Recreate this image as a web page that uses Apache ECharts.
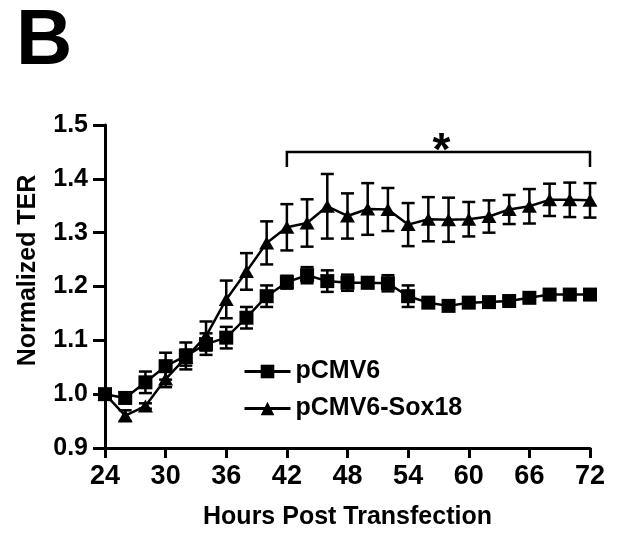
<!DOCTYPE html>
<html>
<head>
<meta charset="utf-8">
<script src="https://cdn.jsdelivr.net/npm/echarts@6/dist/echarts.min.js"></script>
<style>
  html, body { margin: 0; padding: 0; background: #fff; }
  #chart { width: 629px; height: 535px; }
</style>
</head>
<body>
<div id="chart"></div>
<script>
// hours post transfection, one reading every 2 h
var hours = [24, 26, 28, 30, 32, 34, 36, 38, 40, 42, 44, 46, 48, 50, 52, 54, 56, 58, 60, 62, 64, 66, 68, 70, 72]

var pcmv6 = [1.000, 0.993, 1.022, 1.052, 1.071, 1.093, 1.105, 1.142, 1.182, 1.208, 1.221, 1.210, 1.207,
  1.207, 1.206, 1.182, 1.170, 1.164, 1.170, 1.171, 1.173, 1.179, 1.185, 1.185, 1.185]
var pcmv6Err = [0.005, 0.010, 0.020, 0.025, 0.025, 0.020, 0.020, 0.020, 0.020, 0.012, 0.015, 0.020, 0.015,
  0.010, 0.015, 0.020, 0.008, 0.006, 0.005, 0.005, 0.005, 0.005, 0.005, 0.005, 0.005]

var sox18 = [1.000, 0.960, 0.978, 1.028, 1.068, 1.108, 1.176, 1.228, 1.281, 1.310, 1.318, 1.349, 1.331,
  1.344, 1.343, 1.315, 1.325, 1.324, 1.325, 1.330, 1.343, 1.349, 1.361, 1.361, 1.360]
var sox18Err = [0.005, 0.010, 0.005, 0.015, 0.015, 0.027, 0.035, 0.034, 0.040, 0.043, 0.044, 0.060, 0.042,
  0.048, 0.040, 0.040, 0.041, 0.041, 0.032, 0.030, 0.027, 0.032, 0.030, 0.032, 0.032]

var xTicks = [24, 30, 36, 42, 48, 54, 60, 66, 72]
var yTicks = [0.9, 1.0, 1.1, 1.2, 1.3, 1.4, 1.5]

// significance bracket: from / to hour, bar level, tip level, star position
var bracketHours = [42, 72]
var bracketLevel = [1.45, 1.422]
var starPoint = [57.3, 1.45]

var FONT = "'Liberation Sans', Arial, sans-serif"

function pairs(ys) {
  return hours.map(function (h, i) { return [h, ys[i]] })
}

function errData(ys, es) {
  return hours.map(function (h, i) { return [h, ys[i] - es[i], ys[i] + es[i]] })
}

function renderErr(params, api) {
  var lo = api.coord([api.value(0), api.value(1)])
  var hi = api.coord([api.value(0), api.value(2)])
  var half = 6.5
  var style = { stroke: '#000', lineWidth: 2.5 }
  return {
    type: 'group',
    children: [
      { type: 'line', shape: { x1: lo[0], y1: lo[1], x2: hi[0], y2: hi[1] }, style: style },
      { type: 'line', shape: { x1: hi[0] - half, y1: hi[1], x2: hi[0] + half, y2: hi[1] }, style: style },
      { type: 'line', shape: { x1: lo[0] - half, y1: lo[1], x2: lo[0] + half, y2: lo[1] }, style: style }
    ]
  }
}

function renderBracket(params, api) {
  var a = api.coord([bracketHours[0], bracketLevel[0]])
  var b = api.coord([bracketHours[1], bracketLevel[0]])
  var a2 = api.coord([bracketHours[0], bracketLevel[1]])
  var b2 = api.coord([bracketHours[1], bracketLevel[1]])
  var s = api.coord(starPoint)
  return {
    type: 'group',
    children: [
      { type: 'polyline', shape: { points: [a2, a, b, b2] }, style: { stroke: '#000', lineWidth: 2.5, fill: null } },
      { type: 'text', x: s[0], y: s[1], style: { text: '*', fill: '#000', font: 'bold 46px ' + FONT, align: 'center', verticalAlign: 'middle' } }
    ]
  }
}

var chart = echarts.init(document.getElementById('chart'))
var option = {
  animation: false,
  backgroundColor: '#fff',
  title: {
    text: 'B',
    left: 11,
    top: -2,
    textStyle: { fontFamily: FONT, fontWeight: 'bold', fontSize: 78, color: '#000' }
  },
  grid: { left: 105, right: 39, top: 125, bottom: 86 },
  legend: {
    orient: 'vertical',
    left: 238,
    top: 354,
    itemWidth: 46,
    itemHeight: 17,
    itemGap: 12,
    data: ['pCMV6', 'pCMV6-Sox18'],
    lineStyle: { width: 3 },
    textStyle: { fontFamily: FONT, fontWeight: 'bold', fontSize: 25, color: '#000' }
  },
  xAxis: {
    type: 'value',
    min: xTicks[0],
    max: xTicks[xTicks.length - 1],
    interval: xTicks[1] - xTicks[0],
    name: 'Hours Post Transfection',
    nameLocation: 'middle',
    nameGap: 57,
    nameTextStyle: { fontFamily: FONT, fontWeight: 'bold', fontSize: 25, color: '#000' },
    axisLine: { lineStyle: { color: '#000', width: 3 } },
    axisTick: { length: 10, lineStyle: { color: '#000', width: 3 } },
    axisLabel: { margin: 15, fontFamily: FONT, fontWeight: 'bold', fontSize: 27, color: '#000' },
    splitLine: { show: false }
  },
  yAxis: {
    type: 'value',
    min: yTicks[0],
    max: yTicks[yTicks.length - 1],
    interval: 0.1,
    name: 'Normalized TER',
    nameLocation: 'middle',
    nameGap: 64,
    nameTextStyle: { fontFamily: FONT, fontWeight: 'bold', fontSize: 25, color: '#000', padding: [0, 0, 0, 32] },
    axisLine: { show: true, lineStyle: { color: '#000', width: 3 } },
    axisTick: { show: true, length: 12, lineStyle: { color: '#000', width: 3 } },
    axisLabel: {
      margin: 17, fontFamily: FONT, fontWeight: 'bold', fontSize: 25, color: '#000',
      formatter: function (v) { return v.toFixed(1) }
    },
    splitLine: { show: false }
  },
  series: [
    {
      type: 'custom',
      name: 'errA',
      renderItem: renderErr,
      data: errData(pcmv6, pcmv6Err),
      z: 1
    },
    {
      type: 'custom',
      name: 'errB',
      renderItem: renderErr,
      data: errData(sox18, sox18Err),
      z: 1
    },
    {
      type: 'line',
      name: 'pCMV6',
      data: pairs(pcmv6),
      symbol: 'rect',
      symbolSize: 14,
      lineStyle: { color: '#000', width: 2.5 },
      itemStyle: { color: '#000' },
      z: 3
    },
    {
      type: 'line',
      name: 'pCMV6-Sox18',
      data: pairs(sox18),
      symbol: 'triangle',
      symbolSize: [15, 13],
      lineStyle: { color: '#000', width: 2.5 },
      itemStyle: { color: '#000' },
      z: 3
    },
    {
      type: 'custom',
      name: 'bracket',
      renderItem: renderBracket,
      data: [[bracketHours[0], bracketLevel[0]]],
      clip: false,
      silent: true
    }
  ]
}
chart.setOption(option)
</script>
</body>
</html>
